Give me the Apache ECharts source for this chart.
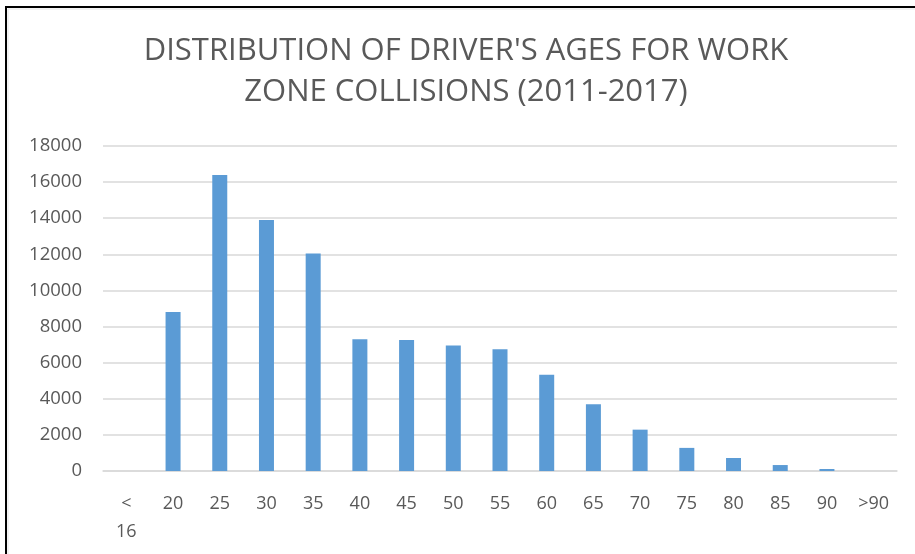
<!DOCTYPE html>
<html>
<head>
<meta charset="utf-8">
<script src="https://cdn.jsdelivr.net/npm/echarts@6/dist/echarts.min.js"></script>
<style>
html,body{margin:0;padding:0;background:#fff;}
#c{width:915px;height:554px;}
</style>
</head>
<body>
<div id="c"></div>
<script>
var titleLines = ["DISTRIBUTION OF DRIVER'S AGES FOR WORK", "ZONE COLLISIONS (2011-2017)"];
var categories = ['< 16','20','25','30','35','40','45','50','55','60','65','70','75','80','85','90','>90'];
var collisions = [0, 8800, 16400, 13900, 12050, 7300, 7250, 6950, 6750, 5330, 3700, 2290, 1280, 720, 330, 110, 0];
var yTicks = {min: 0, max: 18000, interval: 2000};

var chart = echarts.init(document.getElementById('c'), null, {renderer: 'canvas'});
chart.setOption({
  animation: false,
  backgroundColor: '#fff',
  title: {
    text: titleLines.join('\n'),
    left: 461,
    textAlign: 'center',
    top: 26,
    textStyle: {
      fontFamily: 'Open Sans',
      fontWeight: 'normal',
      fontSize: 31,
      lineHeight: 41,
      color: '#595959'
    }
  },
  graphic: [
    {type: 'rect', shape: {x: 6, y: 7, width: 1200, height: 1200}, style: {fill: null, stroke: '#000', lineWidth: 2}, z: 10},
    {type: 'rect', shape: {x: 8, y: 9, width: 1200, height: 1200}, style: {fill: null, stroke: '#e6e6e6', lineWidth: 1}, z: 10}
  ],
  grid: {left: 103, right: 18, top: 146, bottom: 83},
  xAxis: {
    type: 'category',
    data: categories,
    axisTick: {show: false},
    axisLine: {lineStyle: {color: '#d9d9d9', width: 1.5}},
    axisLabel: {
      color: '#595959',
      fontFamily: 'Open Sans',
      fontSize: 18,
      margin: 19,
      lineHeight: 28,
      interval: 0,
      formatter: function (v) { return v.replace('< ', '<\n'); }
    }
  },
  yAxis: {
    type: 'value',
    min: yTicks.min,
    max: yTicks.max,
    interval: yTicks.interval,
    axisLine: {show: false},
    axisTick: {show: false},
    splitLine: {lineStyle: {color: '#d9d9d9', width: 1.5}},
    axisLabel: {
      color: '#595959',
      fontFamily: 'Open Sans',
      fontSize: 18.5,
      margin: 21,
      formatter: function (v) { return String(v); }
    }
  },
  series: [{
    type: 'bar',
    data: collisions,
    barWidth: 15,
    itemStyle: {color: '#5b9bd5'}
  }]
});
</script>
</body>
</html>
